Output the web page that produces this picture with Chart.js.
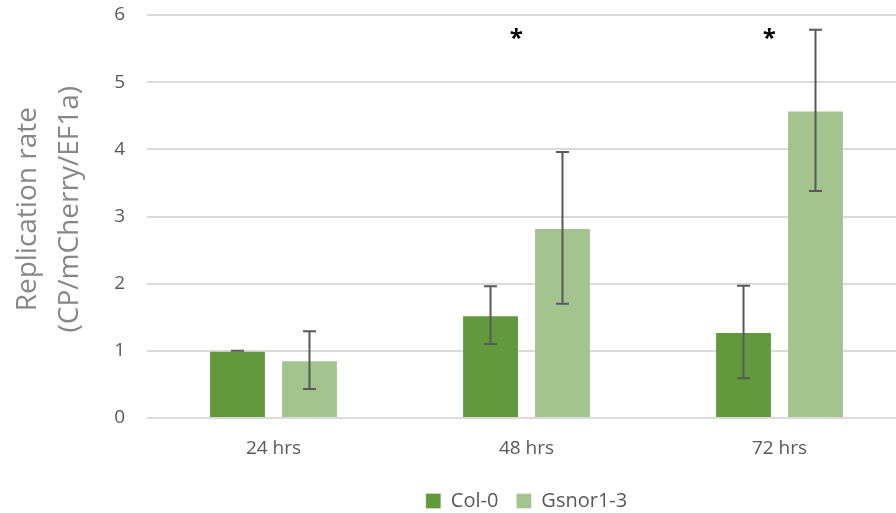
<!DOCTYPE html>
<html>
<head>
<meta charset="utf-8">
<title>Replication rate</title>
<script src="https://cdn.jsdelivr.net/npm/chart.js@4.4.1/dist/chart.umd.min.js"></script>
<style>
  html, body { margin: 0; padding: 0; background: #ffffff; overflow: hidden; }
  #wrap { width: 896px; height: 513px; overflow: hidden; position: relative; }
  canvas { display: block; }
</style>
</head>
<body>
<div id="wrap"><canvas id="chart" width="920" height="521"></canvas></div>
<script>
// Time points and measured replication rates (mean ± error)
const categories = ['24 hrs', '48 hrs', '72 hrs'];
const col0 = [1.00, 1.53, 1.28];
const col0Err = [0.00, 0.43, 0.69];
const gsnor = [0.86, 2.83, 4.58];
const gsnorErr = [0.43, 1.13, 1.20];
// Significance markers per time point and the level they sit at
const sigMarks = ['', '*', '*'];
const sigLevel = 5.72;
// Y axis range
const yMin = 0;
const yMax = 6;
const yStep = 1;

const FONT = "'Open Sans', 'Liberation Sans', sans-serif";
const TEXT_GREY = '#595959';

// Draws the error whiskers with caps for each bar
const errorBars = {
  id: 'errorBars',
  afterDatasetsDraw(chart) {
    const ctx = chart.ctx;
    const y = chart.scales.y;
    ctx.save();
    ctx.strokeStyle = '#595959';
    ctx.lineWidth = 2;
    chart.data.datasets.forEach((ds, di) => {
      const meta = chart.getDatasetMeta(di);
      meta.data.forEach((bar, i) => {
        const v = ds.data[i];
        const e = ds.errors[i];
        const yTop = y.getPixelForValue(v + e);
        const yBot = y.getPixelForValue(v - e);
        const cap = 6.5;
        ctx.beginPath();
        ctx.moveTo(bar.x, yTop);
        ctx.lineTo(bar.x, yBot);
        ctx.moveTo(bar.x - cap, yTop);
        ctx.lineTo(bar.x + cap, yTop);
        ctx.moveTo(bar.x - cap, yBot);
        ctx.lineTo(bar.x + cap, yBot);
        ctx.stroke();
      });
    });
    ctx.restore();
  }
};

// Draws the significance asterisks above the groups
const sigMarkers = {
  id: 'sigMarkers',
  afterDatasetsDraw(chart) {
    const ctx = chart.ctx;
    const xs = chart.scales.x;
    const ys = chart.scales.y;
    const catWidth = xs.width / categories.length;
    ctx.save();
    ctx.fillStyle = '#000000';
    ctx.font = "bold 24px " + FONT;
    ctx.textAlign = 'center';
    ctx.textBaseline = 'alphabetic';
    sigMarks.forEach((m, i) => {
      if (!m) return;
      const tm = ctx.measureText(m);
      const cx = xs.getPixelForValue(i) - catWidth * 0.04;
      const cy = ys.getPixelForValue(sigLevel);
      const base = cy + (tm.actualBoundingBoxAscent - tm.actualBoundingBoxDescent) / 2;
      ctx.fillText(m, cx, base);
    });
    ctx.restore();
  }
};

new Chart(document.getElementById('chart'), {
  type: 'bar',
  data: {
    labels: categories,
    datasets: [
      {
        label: 'Col-0',
        data: col0,
        errors: col0Err,
        backgroundColor: '#62993d',
        borderColor: 'rgba(255,255,255,0.3)',
        borderWidth: 1,
        categoryPercentage: 0.569,
        barPercentage: 0.79
      },
      {
        label: 'Gsnor1-3',
        data: gsnor,
        errors: gsnorErr,
        backgroundColor: '#a3c48f',
        borderColor: 'rgba(255,255,255,0.3)',
        borderWidth: 1,
        categoryPercentage: 0.569,
        barPercentage: 0.79
      }
    ]
  },
  options: {
    responsive: false,
    animation: false,
    layout: { padding: { left: 0, right: 14, top: 15, bottom: 0 } },
    plugins: {
      tooltip: { enabled: false },
      legend: {
        position: 'bottom',
        fullSize: false,
        labels: {
          boxWidth: 15,
          boxHeight: 15,
          padding: 18,
          color: TEXT_GREY,
          font: { family: FONT, size: 20 }
        }
      }
    },
    scales: {
      x: {
        grid: { display: false },
        border: { display: false },
        ticks: {
          color: TEXT_GREY,
          padding: 11,
          font: { family: FONT, size: 19 }
        },
        afterFit(s) { s.height = 55; s.paddingLeft = 0; s.paddingRight = 0; }
      },
      y: {
        min: yMin,
        max: yMax,
        ticks: {
          stepSize: yStep,
          padding: 22,
          color: TEXT_GREY,
          font: { family: FONT, size: 19 }
        },
        grid: { color: '#dadada', lineWidth: 2, drawTicks: false },
        border: { display: false },
        title: {
          display: true,
          text: ['  Replication rate', '  (CP/mCherry/EF1a)'],
          color: '#878787',
          font: { family: FONT, size: 28, lineHeight: 1.5 },
          padding: { top: 7, bottom: 0 }
        },
        afterFit(s) { s.width = 147; s.paddingTop = 0; s.paddingBottom = 0; }
      }
    }
  },
  plugins: [errorBars, sigMarkers]
});
</script>
</body>
</html>
